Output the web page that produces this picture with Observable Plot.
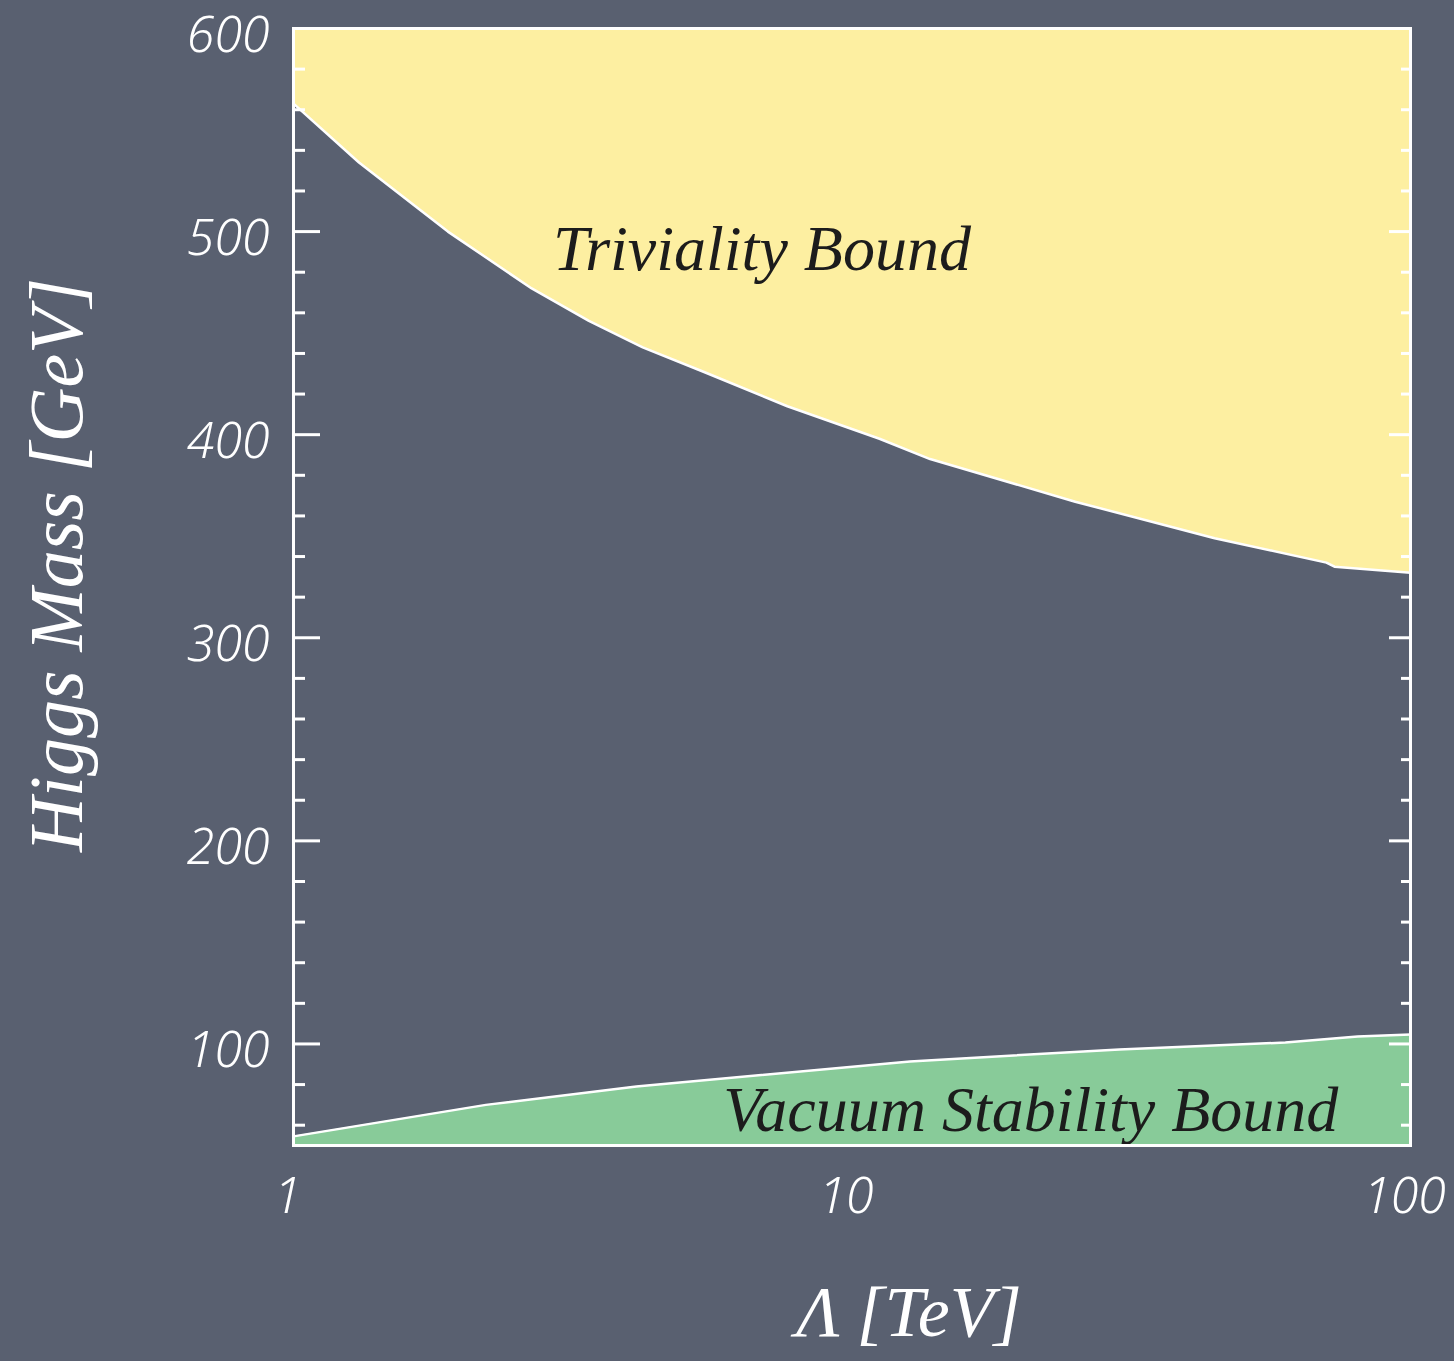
<!DOCTYPE html>
<html>
<head>
<meta charset="utf-8">
<script src="https://cdn.jsdelivr.net/npm/d3@7"></script>
<script src="https://cdn.jsdelivr.net/npm/@observablehq/plot@0.6"></script>
<style>
  html, body { margin: 0; padding: 0; background: #596070; }
  #chart svg { display: block; background-color: #596070; }
</style>
</head>
<body>
<div id="chart"></div>
<script>
// Triviality bound (upper limit on Higgs mass)
const trivLambda = [1, 1.31, 1.89, 2.67, 3.38, 4.22, 5.42, 7.66, 11.2, 13.8, 25.1, 44.6, 70.7, 73.1, 100];
const trivMass   = [563, 534, 500, 472, 456, 443, 431, 414, 398, 388, 367, 349, 337, 335, 332];
// Vacuum stability bound (lower limit on Higgs mass)
const vacLambda = [1, 2.21, 4.11, 12.7, 30.1, 59.7, 80.4, 100];
const vacMass   = [54.5, 70, 79, 91.4, 97.3, 100.7, 103.7, 104.7];

const xTicks = [1, 10, 100];
const yMajor = [100, 200, 300, 400, 500];
const yLabels = [100, 200, 300, 400, 500, 600];
const yMinor = [60, 80, 120, 140, 160, 180, 220, 240, 260, 280, 320, 340, 360, 380, 420, 440, 460, 480, 520, 540, 560, 580];

const regionLabels = [
  {x: 6.9, y: 491, text: "Triviality Bound"},
  {x: 20.9, y: 67, text: "Vacuum Stability Bound"}
];

const triv = trivLambda.map((x, i) => ({x, y: trivMass[i]}));
const vac = vacLambda.map((x, i) => ({x, y: vacMass[i]}));

const yellow = "#fdefa1";
const green = "#88cb99";
const chalk = "white";
const numFont = "'Noto Sans', 'DejaVu Sans', sans-serif";
const scriptFont = "'Liberation Serif', 'DejaVu Serif', serif";

const plot = Plot.plot({
  width: 1454,
  height: 1361,
  marginLeft: 293,
  marginRight: 44,
  marginTop: 28,
  marginBottom: 216,
  style: {background: "transparent", color: chalk, overflow: "visible"},
  x: {type: "log", domain: [1, 100]},
  y: {domain: [50, 600]},
  marks: [
    Plot.areaY(triv, {x: "x", y1: "y", y2: 600, fill: yellow}),
    Plot.areaY(vac, {x: "x", y1: 50, y2: "y", fill: green}),
    Plot.line(triv, {x: "x", y: "y", stroke: chalk, strokeWidth: 2.5}),
    Plot.line(vac, {x: "x", y: "y", stroke: chalk, strokeWidth: 2.5}),
    // inward ticks, left
    Plot.axisY({anchor: "left", ticks: yMajor, tickSize: -27, tickFormat: () => "", label: null, strokeWidth: 3, stroke: chalk}),
    Plot.axisY({anchor: "left", ticks: yMinor, tickSize: -12, tickFormat: () => "", label: null, strokeWidth: 3, stroke: chalk}),
    // inward ticks, right
    Plot.axisY({anchor: "right", ticks: yMajor, tickSize: -22, tickFormat: () => "", label: null, strokeWidth: 3, stroke: chalk}),
    Plot.axisY({anchor: "right", ticks: yMinor, tickSize: -10, tickFormat: () => "", label: null, strokeWidth: 3, stroke: chalk}),
    // tick labels
    Plot.axisY({anchor: "left", ticks: yLabels, tickSize: 0, tickPadding: 24, dy: 7, label: null,
      fontSize: 50, fontStyle: "italic", fontFamily: numFont, fontWeight: 300, fill: chalk, tickFormat: d => String(d)}),
    Plot.axisX({anchor: "bottom", ticks: xTicks, tickSize: 0, tickPadding: 32, dx: -6, label: null,
      fontSize: 50, fontStyle: "italic", fontFamily: numFont, fontWeight: 300, fill: chalk, tickFormat: d => String(d)}),
    // axis titles
    Plot.text(["Λ [TeV]"], {frameAnchor: "bottom", dx: 57, dy: 190, fontSize: 72, fontStyle: "italic",
      fontFamily: scriptFont, fill: chalk, textAnchor: "middle"}),
    Plot.text(["Higgs Mass [GeV]"], {frameAnchor: "left", dx: -236, dy: -22, rotate: -90, fontSize: 76, fontStyle: "italic",
      fontFamily: scriptFont, fill: chalk, textAnchor: "middle"}),
    // region annotations
    Plot.text(regionLabels, {x: "x", y: "y", text: "text", fontSize: 64, fontStyle: "italic",
      fontFamily: scriptFont, fill: "#1c1c1c", textAnchor: "middle"}),
    Plot.frame({stroke: chalk, strokeWidth: 3})
  ]
});
document.getElementById("chart").appendChild(plot);
</script>
</body>
</html>
